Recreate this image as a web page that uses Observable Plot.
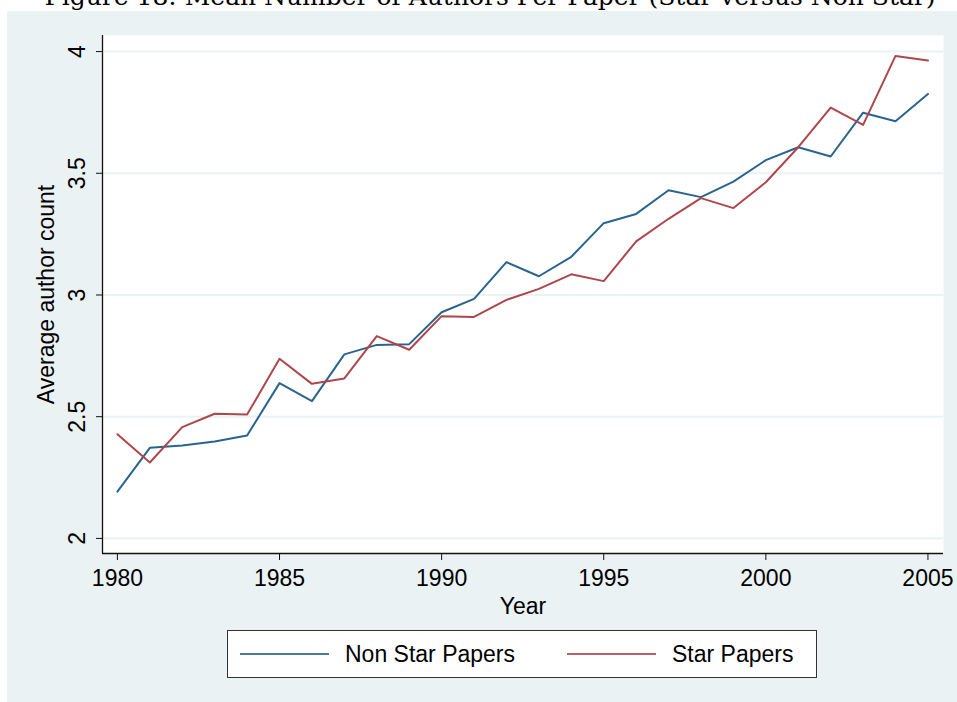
<!DOCTYPE html>
<html>
<head>
<meta charset="utf-8">
<script src="https://cdn.jsdelivr.net/npm/d3@7"></script>
<script src="https://cdn.jsdelivr.net/npm/@observablehq/plot@0.6"></script>
<style>
  html, body { margin: 0; padding: 0; background: #ffffff; width: 957px; height: 702px; overflow: hidden; }
  #title { position: absolute; left: 0; width: 980px; top: -16px; text-align: center; font-family: "DejaVu Serif", serif; font-size: 25px; line-height: 25px; color: #000; white-space: nowrap; }
  #panel { position: absolute; left: 7px; top: 11px; width: 950px; height: 691px; background: #eaf2f3; }
  #chart { position: absolute; left: 0; top: 0; }
  #legend { position: absolute; left: 220px; top: 619px; width: 588px; height: 46px; background: #fff; border: 1px solid #333; font-family: "Liberation Sans", Arial, sans-serif; font-size: 23px; color: #000; }
  .key { position: absolute; top: 0; height: 46px; display: flex; align-items: center; }
  .sw { display: inline-block; width: 89px; height: 2px; margin-right: 16px; }
</style>
</head>
<body>
<div id="title">Figure 18: Mean Number of Authors Per Paper (Star versus Non Star)</div>
<div id="panel">
  <div id="chart"></div>
  <div id="legend"></div>
</div>
<script>
const years = [1980,1981,1982,1983,1984,1985,1986,1987,1988,1989,1990,1991,1992,1993,1994,1995,1996,1997,1998,1999,2000,2001,2002,2003,2004,2005];
const nonStar = [2.192,2.372,2.382,2.398,2.423,2.638,2.564,2.756,2.795,2.798,2.929,2.984,3.135,3.077,3.157,3.295,3.333,3.430,3.402,3.466,3.554,3.607,3.569,3.749,3.714,3.826];
const star    = [2.428,2.312,2.457,2.512,2.509,2.738,2.635,2.657,2.831,2.775,2.913,2.910,2.980,3.025,3.085,3.057,3.220,3.313,3.398,3.357,3.463,3.607,3.770,3.699,3.982,3.963];
const seriesNames = ["Non Star Papers", "Star Papers"];
const seriesColors = ["#2a648e", "#ad474c"];
const xTicks = [1980,1985,1990,1995,2000,2005];
const yTicks = [2,2.5,3,3.5,4];
const xDomain = [1979.54, 2005.48];
const yDomain = [1.938, 4.066];

const rows = [];
years.forEach((yr, i) => {
  rows.push({year: yr, value: nonStar[i], series: seriesNames[0]});
  rows.push({year: yr, value: star[i], series: seriesNames[1]});
});

const chart = Plot.plot({
  width: 950,
  height: 615,
  marginLeft: 95,
  marginRight: 14,
  marginTop: 24,
  marginBottom: 73,
  style: {fontFamily: "'Liberation Sans', Arial, sans-serif", fontSize: "23px", background: "transparent", color: "#000", overflow: "visible"},
  x: {domain: xDomain},
  y: {domain: yDomain},
  color: {domain: seriesNames, range: seriesColors},
  marks: [
    Plot.frame({fill: "white", stroke: null}),
    Plot.ruleY(yTicks, {stroke: "#eaf2f3", strokeWidth: 2}),
    Plot.line(rows, {x: "year", y: "value", z: "series", stroke: "series", strokeWidth: 2}),
    Plot.ruleX([xDomain[0]], {stroke: "#111", strokeWidth: 1.3}),
    Plot.ruleY([yDomain[0]], {stroke: "#111", strokeWidth: 1.3}),
    Plot.axisX({ticks: xTicks, tickSize: 7, tickPadding: 9, tickFormat: d => String(d), label: "Year", labelAnchor: "center", labelArrow: "none", labelOffset: 60, stroke: "#111"}),
    Plot.axisY({ticks: yTicks, tickSize: 6, tickPadding: 12, tickRotate: -90, tickFormat: d => String(d), label: "Average author count", labelAnchor: "center", labelArrow: "none", labelOffset: 65, stroke: "#111"})
  ]
});
document.getElementById("chart").appendChild(chart);

const legend = document.getElementById("legend");
const keyLeft = [12, 339];
seriesNames.forEach((name, i) => {
  const k = document.createElement("div");
  k.className = "key";
  k.style.left = keyLeft[i] + "px";
  const sw = document.createElement("span");
  sw.className = "sw";
  sw.style.background = seriesColors[i];
  sw.style.opacity = 0.85;
  k.appendChild(sw);
  const t = document.createElement("span");
  t.textContent = name;
  k.appendChild(t);
  legend.appendChild(k);
});
</script>
</body>
</html>
